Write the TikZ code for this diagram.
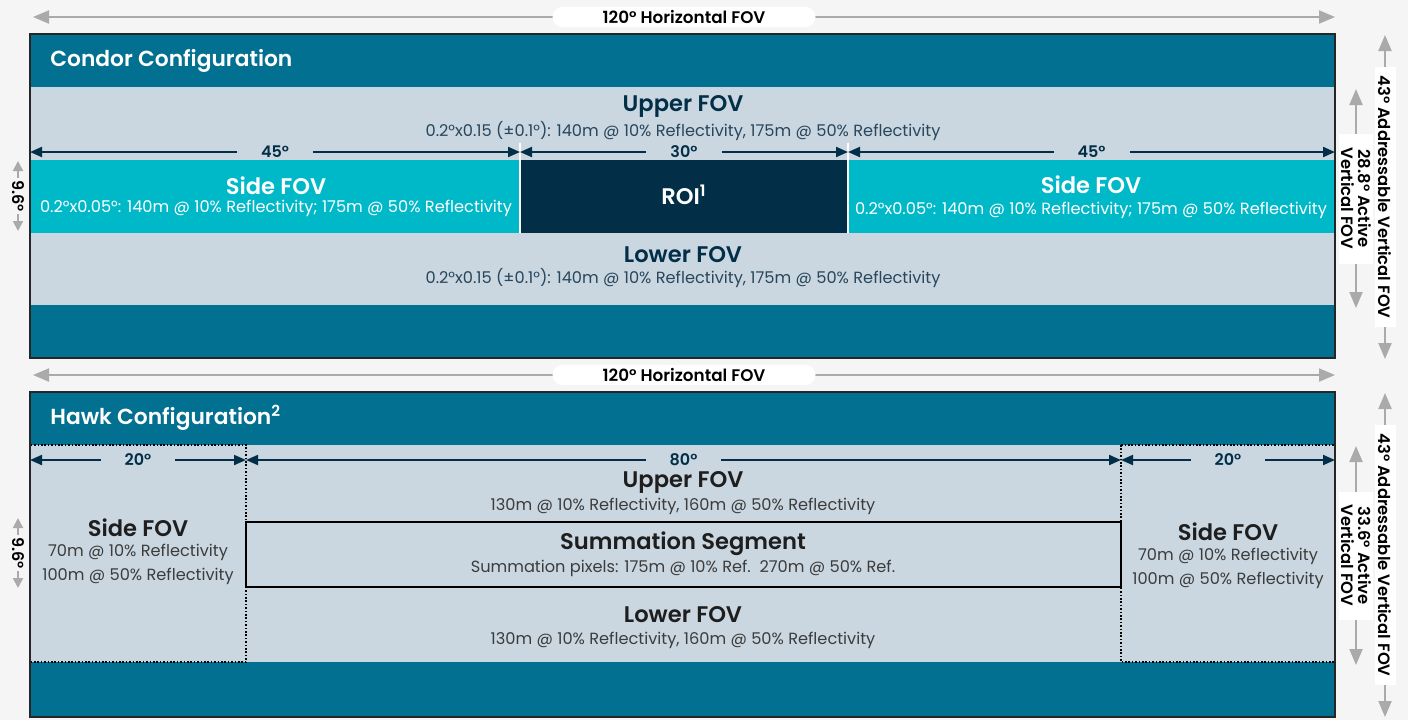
\documentclass[tikz,border=0pt]{standalone}
\usepackage{fontspec}
\setmainfont{Poppins}[BoldFont={Poppins SemiBold}]
\usetikzlibrary{arrows.meta, positioning}

\definecolor{pagebg}{RGB}{245,245,245}
\definecolor{bandteal}{RGB}{2,112,145}
\definecolor{fovlight}{RGB}{202,215,225}
\definecolor{sidecyan}{RGB}{0,185,200}
\definecolor{roinavy}{RGB}{2,47,71}
\definecolor{dimgray}{RGB}{170,170,170}
\definecolor{subnavy}{RGB}{40,70,92}
\definecolor{hawktext}{RGB}{30,30,30}
\definecolor{hawksub}{RGB}{60,60,60}

\newcommand{\fsz}[1]{\fontsize{#1}{#1}\selectfont}

\tikzset{
  boxline/.style={draw=black!85, line width=0.8pt},
  dotline/.style={draw=black, line width=0.8pt, dash pattern=on 0.8pt off 0.9pt},
  navydim/.style={draw=roinavy, line width=1pt, {Triangle[length=6pt,width=5pt]}-{Triangle[length=6pt,width=5pt]}},
  graydim/.style={draw=dimgray, line width=1pt, {Triangle[length=8pt,width=6.5pt]}-{Triangle[length=8pt,width=6.5pt]}},
  smalldim/.style={draw=dimgray, line width=1pt, {Triangle[length=5pt,width=5pt]}-{Triangle[length=5pt,width=5pt]}},
  deglabel/.style={fill=fovlight, inner xsep=12pt, inner ysep=1pt, text=roinavy, font=\bfseries\fsz{8}},
  hfovlabel/.style={fill=white, rounded corners=5pt, minimum width=131.5pt, minimum height=10pt, inner sep=1pt, text=black, font=\bfseries\fsz{8.4}},
  vfovlabel/.style={fill=white, rotate=-90, inner sep=1pt, text=black, font=\bfseries\fontsize{8.2}{8.4}\selectfont, align=center},
  ninelabel/.style={fill=pagebg, rotate=-90, inner sep=1pt, text=black, font=\bfseries\fsz{8}},
  cfgtitle/.style={anchor=west, inner sep=0pt, text=white, font=\bfseries\fsz{10.9}},
  heading/.style={inner sep=0pt, text=roinavy, font=\bfseries\fsz{11.3}},
  subtext/.style={inner sep=0pt, text=subnavy, font=\fsz{8.1}},
  wheading/.style={heading, text=white},
  wsubtext/.style={subtext, text=white},
  hheading/.style={heading, text=hawktext},
  hsubtext/.style={subtext, text=hawksub}
}

\begin{document}
\begin{tikzpicture}[x=0.5pt, y=-0.5pt]
\fill[pagebg] (0,0) rectangle (1408,720);
\useasboundingbox (0,0) rectangle (1408,720);

% Condor configuration
\fill[bandteal] (30,34) rectangle (1335,358);
\fill[fovlight] (30,87) rectangle (1335,305);
\fill[sidecyan] (30,160) rectangle (1335,233);
\fill[roinavy] (520,160) rectangle (848,233);
\draw[white, line width=1pt] (520,143) -- (520,233) (848,143) -- (848,233);
\draw[boxline] (30,34) rectangle (1335,358);

\node[cfgtitle] (condor) at (50,61) {Condor Configuration};
\node[heading] (cupper) at (683,106) {Upper FOV};
\node[subtext] (cuppersub) at (683,131) {0.2°x0.15 (±0.1°): 140m @ 10\% Reflectivity, 175m @ 50\% Reflectivity};
\node[wheading] (csidel) at (276,186) {Side FOV};
\node[wsubtext] (csidelsub) at (276,208) {0.2°x0.05°: 140m @ 10\% Reflectivity; 175m @ 50\% Reflectivity};
\node[wheading] (roi) at (684,195) {ROI\textsuperscript{1}};
\node[wheading] (csider) at (1091,185) {Side FOV};
\node[wsubtext] (csidersub) at (1091,210) {0.2°x0.05°: 140m @ 10\% Reflectivity; 175m @ 50\% Reflectivity};
\node[heading] (clower) at (683,255) {Lower FOV};
\node[subtext] (clowersub) at (683,278) {0.2°x0.15 (±0.1°): 140m @ 10\% Reflectivity, 175m @ 50\% Reflectivity};

\coordinate (ca) at (30,152);
\coordinate (cb) at (520,152);
\coordinate (cc) at (848,152);
\coordinate (cd) at (1335,152);
\draw[navydim] (ca) -- node[deglabel] {45°} (cb);
\draw[navydim] (cb) -- node[deglabel] {30°} (cc);
\draw[navydim] (cc) -- node[deglabel] {45°} (cd);

\coordinate (chl) at (33,17);
\coordinate (chr) at (1335,17);
\draw[graydim] (chl) -- node[hfovlabel] {120° Horizontal FOV} (chr);
\coordinate (cnt) at (18,161);
\coordinate (cnb) at (18,231);
\draw[smalldim] (cnt) -- node[ninelabel] {9.6°} (cnb);
\coordinate (cat) at (1385,35);
\coordinate (cab) at (1385,359);
\draw[graydim] (cat) -- node[vfovlabel, minimum width=130pt, minimum height=10.5pt] {43° Addressable Vertical FOV} (cab);
\coordinate (cvt) at (1356,89);
\coordinate (cvb) at (1356,308);
\draw[graydim] (cvt) -- node[vfovlabel, minimum width=65pt, minimum height=16.5pt] {28.8° Active\\Vertical FOV} (cvb);

% Hawk configuration
\fill[bandteal] (30,392) rectangle (1335,717);
\fill[fovlight] (30,445) rectangle (1335,662);
\draw[dotline] (30,445) rectangle (246,662);
\draw[dotline] (1121,445) rectangle (1335,662);
\node[draw=black, line width=1pt, minimum width=437.5pt, minimum height=32.5pt, inner sep=0pt] (sumseg) at (683.5,554.5) {};
\draw[boxline] (30,392) rectangle (1335,717);

\node[cfgtitle] (hawk) at (50,418) {Hawk Configuration\textsuperscript{2}};
\node[hheading] (hupper) at (683,482) {Upper FOV};
\node[hsubtext] (huppersub) at (683,506) {130m @ 10\% Reflectivity, 160m @ 50\% Reflectivity};
\node[hheading] (hsum) at (683,544) {Summation Segment};
\node[hsubtext] (hsumsub) at (683,568) {Summation pixels: 175m @ 10\% Ref.\ \ 270m @ 50\% Ref.};
\node[hheading] (hlower) at (683,615) {Lower FOV};
\node[hsubtext] (hlowersub) at (683,640) {130m @ 10\% Reflectivity, 160m @ 50\% Reflectivity};
\node[hheading] (hsidel) at (138,528) {Side FOV};
\node[hsubtext] (hsidel1) at (138,552) {70m @ 10\% Reflectivity};
\node[hsubtext] (hsidel2) at (138,576) {100m @ 50\% Reflectivity};
\node[hheading] (hsider) at (1228,532) {Side FOV};
\node[hsubtext] (hsider1) at (1228,556) {70m @ 10\% Reflectivity};
\node[hsubtext] (hsider2) at (1228,580) {100m @ 50\% Reflectivity};

\coordinate (ha) at (30,460);
\coordinate (hb) at (246,460);
\coordinate (hc) at (1121,460);
\coordinate (hd) at (1335,460);
\draw[navydim] (ha) -- node[deglabel] {20°} (hb);
\draw[navydim] (hb) -- node[deglabel] {80°} (hc);
\draw[navydim] (hc) -- node[deglabel] {20°} (hd);

\coordinate (hhl) at (33,375);
\coordinate (hhr) at (1335,375);
\draw[graydim] (hhl) -- node[hfovlabel] {120° Horizontal FOV} (hhr);
\coordinate (hnt) at (18,518);
\coordinate (hnb) at (18,588);
\draw[smalldim] (hnt) -- node[ninelabel] {9.6°} (hnb);
\coordinate (hat) at (1385,393);
\coordinate (hab) at (1385,717);
\draw[graydim] (hat) -- node[vfovlabel, minimum width=130pt, minimum height=10.5pt] {43° Addressable Vertical FOV} (hab);
\coordinate (hvt) at (1356,446);
\coordinate (hvb) at (1356,665);
\draw[graydim] (hvt) -- node[vfovlabel, minimum width=64pt, minimum height=16.5pt] {33.6° Active\\Vertical FOV} (hvb);
\end{tikzpicture}
\end{document}
